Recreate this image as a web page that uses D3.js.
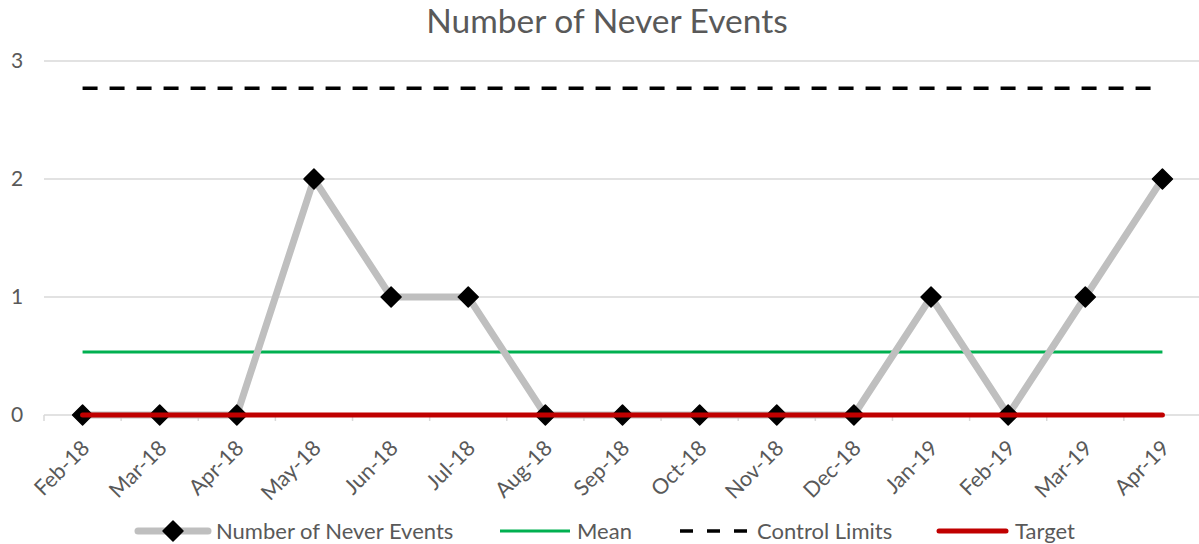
<!DOCTYPE html>
<html><head><meta charset="utf-8">
<script src="https://cdn.jsdelivr.net/npm/d3@7"></script>
<style>body{margin:0;background:#fff;} text{font-family:Lato,"Open Sans",sans-serif;}</style>
</head><body><svg id="c" width="1199" height="544"></svg>
<script>
const categories = ["Feb-18","Mar-18","Apr-18","May-18","Jun-18","Jul-18","Aug-18","Sep-18","Oct-18","Nov-18","Dec-18","Jan-19","Feb-19","Mar-19","Apr-19"];
const events = [0,0,0,2,1,1,0,0,0,0,0,1,0,1,2];
const meanValues = Array(15).fill(0.533);
const controlLimits = Array(15).fill(2.77);
const targetValues = Array(15).fill(0);
const yTicks = [0,1,2,3];
const title = "Number of Never Events";

const svg = d3.select("#c");
const L = 44, R = 1201, T = 61, B = 415;
const x = d3.scaleBand().domain(categories).range([L, R]);
const y = d3.scaleLinear().domain([0,3]).range([B, T]);
const cx = d => x(d) + x.bandwidth()/2;

svg.append("text").attr("x", 607).attr("y", 33).attr("text-anchor","middle")
  .attr("font-size", 33.5).attr("fill","#595959").text(title);

// gridlines
svg.append("g").selectAll("line").data(yTicks.filter(t=>t>0)).join("line")
  .attr("x1", L).attr("x2", R).attr("y1", d=>y(d)).attr("y2", d=>y(d))
  .attr("stroke","#d9d9d9").attr("stroke-width",1.5);
// y labels
svg.append("g").selectAll("text").data(yTicks).join("text")
  .attr("x", 17).attr("y", d=>y(d)).attr("dy","0.35em").attr("text-anchor","middle")
  .attr("font-size", 21).attr("fill","#595959").text(d=>d);
// x axis
svg.append("line").attr("x1",L).attr("x2",R).attr("y1",B).attr("y2",B).attr("stroke","#d9d9d9").attr("stroke-width",1.5);
const bounds = categories.map(c=>x(c)).concat([R]);
svg.append("g").selectAll("line").data(bounds).join("line")
  .attr("x1",d=>d).attr("x2",d=>d).attr("y1",B).attr("y2",B+6).attr("stroke","#d9d9d9").attr("stroke-width",1.5);
svg.append("g").selectAll("text").data(categories).join("text")
  .attr("transform", d=>`translate(${cx(d)+3},${B+29}) rotate(-45)`)
  .attr("text-anchor","end").attr("dy","0.35em")
  .attr("font-size", 21.5).attr("fill","#595959").text(d=>d);

const line = d3.line().x((d,i)=>cx(categories[i])).y(d=>y(d));
svg.append("path").datum(meanValues).attr("d",line).attr("fill","none").attr("stroke","#00b050").attr("stroke-width",3);
svg.append("path").datum(controlLimits).attr("d",line).attr("fill","none").attr("stroke","#000").attr("stroke-width",3.5).attr("stroke-dasharray","15,12");
svg.append("path").datum(events).attr("d",line).attr("fill","none").attr("stroke","#bfbfbf").attr("stroke-width",7).attr("stroke-linejoin","round");
const diamond = "M0,-10L10,0L0,10L-10,0Z";
svg.append("g").selectAll("path").data(events).join("path")
  .attr("transform",(d,i)=>`translate(${cx(categories[i])},${y(d)})`)
  .attr("d",diamond).attr("fill","#000").attr("stroke","#000").attr("stroke-width",1.5).attr("stroke-linejoin","round");
svg.append("path").datum(targetValues).attr("d",line).attr("fill","none").attr("stroke","#c00000").attr("stroke-width",5).attr("stroke-linecap","round");

// legend
const ly = 531;
const lg = svg.append("g");
lg.append("line").attr("x1",138).attr("x2",208).attr("y1",ly).attr("y2",ly).attr("stroke","#bfbfbf").attr("stroke-width",7).attr("stroke-linecap","round");
lg.append("path").attr("transform",`translate(173,${ly})`).attr("d",diamond).attr("fill","#000").attr("stroke","#000").attr("stroke-width",1.5).attr("stroke-linejoin","round");
lg.append("line").attr("x1",500).attr("x2",570).attr("y1",ly).attr("y2",ly).attr("stroke","#00b050").attr("stroke-width",3);
lg.append("line").attr("x1",680).attr("x2",748).attr("y1",ly).attr("y2",ly).attr("stroke","#000").attr("stroke-width",3.5).attr("stroke-dasharray","13,14");
lg.append("line").attr("x1",939).attr("x2",1006).attr("y1",ly).attr("y2",ly).attr("stroke","#c00000").attr("stroke-width",5).attr("stroke-linecap","round");
const legendItems = [["Number of Never Events",216],["Mean",577],["Control Limits",757],["Target",1015]];
lg.selectAll("text").data(legendItems).join("text")
  .attr("x",d=>d[1]).attr("y",ly).attr("dy","0.35em").attr("font-size",22).attr("fill","#595959").text(d=>d[0]);
</script></body></html>
